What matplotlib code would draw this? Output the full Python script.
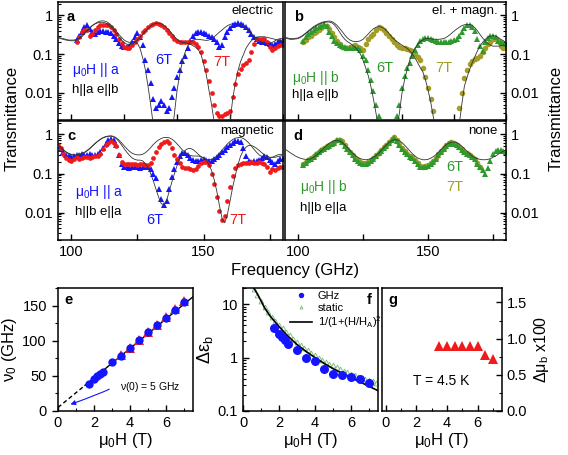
import numpy as np
import matplotlib
matplotlib.use("Agg")
import matplotlib.pyplot as plt
from matplotlib.ticker import LogLocator, NullFormatter, MultipleLocator, FixedLocator

plt.rcParams["font.family"] = ["Liberation Sans", "DejaVu Sans"]
plt.rcParams["mathtext.fontset"] = "custom"
plt.rcParams["mathtext.rm"] = "Liberation Sans"
plt.rcParams["mathtext.it"] = "Liberation Sans:italic"
plt.rcParams["mathtext.default"] = "regular"

nan = np.nan

# ---- spectra (transmittance vs frequency, GHz) ----
f_line = np.arange(95, 181)      # model curves
f_data = np.arange(102, 181)     # measured, panels a, b, d
f_data_c = np.arange(95, 181)    # measured, panel c

# panel a: electric, mu0H || a, h||a e||b
a_fit_6T = [0.26, 0.25, 0.24, 0.23, 0.225, 0.22, 0.22, 0.23, 0.25, 0.28,
            0.33, 0.39, 0.46, 0.54, 0.61, 0.67, 0.71, 0.72, 0.70, 0.64,
            0.56, 0.47, 0.39, 0.32, 0.27, 0.23, 0.21, 0.20, 0.21, 0.21,
            0.19, 0.14, 0.08, 0.04, 0.015, 0.005, 0.0015, 5e-4, 5e-4, 5e-4,
            5e-4, 5e-4, 5e-4, 8e-4, 0.003, 0.012, 0.03, 0.065, 0.11, 0.16,
            0.21, 0.23, 0.24, 0.24, 0.235, 0.23, 0.225, 0.23, 0.25, 0.28,
            0.32, 0.37, 0.42, 0.48, 0.54, 0.58, 0.61, 0.62, 0.61, 0.58,
            0.53, 0.47, 0.40, 0.34, 0.29, 0.25, 0.22, 0.20, 0.19, 0.185,
            0.19, 0.20, 0.22, 0.24, 0.25, 0.25]
a_fit_7T = [0.27, 0.26, 0.25, 0.24, 0.23, 0.23, 0.23, 0.24, 0.26, 0.30,
            0.35, 0.41, 0.48, 0.55, 0.60, 0.64, 0.66, 0.66, 0.63, 0.57,
            0.50, 0.42, 0.34, 0.28, 0.23, 0.20, 0.18, 0.17, 0.18, 0.20,
            0.23, 0.27, 0.32, 0.39, 0.46, 0.53, 0.59, 0.62, 0.63, 0.60,
            0.55, 0.48, 0.41, 0.34, 0.28, 0.24, 0.21, 0.20, 0.195, 0.19,
            0.18, 0.165, 0.15, 0.13, 0.10, 0.055, 0.03, 0.012, 0.005, 0.0018,
            6e-4, 5e-4, 5e-4, 5e-4, 6e-4, 0.0018, 0.007, 0.018, 0.038, 0.065,
            0.095, 0.14, 0.18, 0.22, 0.25, 0.27, 0.28, 0.28, 0.28, 0.27,
            0.26, 0.25, 0.24, 0.23, 0.22, 0.22]
a_6T = [0.23, 0.30, 0.38, 0.50, 0.55, 0.45, 0.36, 0.33, 0.38, 0.40,
        0.40, 0.38, 0.37, 0.35, 0.30, 0.24, 0.19, 0.16, 0.155, 0.15,
        0.16, 0.20, 0.28, 0.34, 0.28, 0.17, 0.07, 0.04, 0.018, 0.007,
        0.004, 0.005, 0.006, 0.005, 0.0035, 0.004, 0.008, 0.013, 0.025, 0.04,
        0.065, 0.09, 0.14, 0.22, 0.30, 0.35, 0.37, 0.37, 0.35, 0.33,
        0.30, 0.28, 0.25, 0.20, 0.15, 0.17, 0.28, 0.38, 0.48, 0.55,
        0.60, 0.62, 0.60, 0.57, 0.50, 0.42, 0.33, 0.27, 0.24, 0.22,
        0.21, 0.20, 0.19, 0.18, 0.17, 0.18, 0.20, 0.22, 0.23]
a_7T = [0.21, 0.28, 0.38, 0.43, 0.42, 0.30, 0.32, 0.42, 0.50, 0.55,
        0.56, 0.55, 0.55, 0.50, 0.42, 0.33, 0.25, 0.19, 0.15, 0.14,
        0.145, 0.17, 0.20, 0.24, 0.29, 0.36, 0.43, 0.50, 0.56, 0.60,
        0.62, 0.61, 0.57, 0.50, 0.42, 0.35, 0.29, 0.25, 0.22, 0.21,
        0.205, 0.20, 0.20, 0.205, 0.20, 0.18, 0.15, 0.11, 0.065, 0.04,
        0.02, 0.01, 0.005, 0.003, 0.0025, 0.0025, 0.0028, 0.003, 0.0035, 0.008,
        0.017, 0.03, 0.042, 0.052, 0.058, 0.07, 0.11, 0.18, 0.24, 0.25,
        0.25, 0.24, 0.20, 0.15, 0.13, 0.14, 0.16, 0.17, 0.17]

# panel b: el. + magn., mu0H || b, h||a e||b
b_fit_6T = [0.26, 0.25, 0.24, 0.24, 0.245, 0.25, 0.27, 0.30, 0.34, 0.38,
            0.43, 0.48, 0.53, 0.58, 0.62, 0.65, 0.67, 0.67, 0.64, 0.57,
            0.47, 0.37, 0.29, 0.24, 0.21, 0.19, 0.17, 0.15, 0.125, 0.10,
            0.07, 0.045, 0.028, 0.015, 0.007, 0.003, 0.0012, 5e-4, 5e-4, 5e-4,
            5e-4, 5e-4, 5e-4, 0.0012, 0.003, 0.01, 0.022, 0.04, 0.07, 0.105,
            0.14, 0.18, 0.21, 0.23, 0.25, 0.25, 0.25, 0.24, 0.24, 0.24,
            0.245, 0.25, 0.27, 0.30, 0.34, 0.39, 0.44, 0.49, 0.54, 0.57,
            0.58, 0.58, 0.55, 0.48, 0.40, 0.32, 0.26, 0.22, 0.19, 0.17,
            0.16, 0.16, 0.16, 0.165, 0.17, 0.17]
b_fit_7T = [0.27, 0.26, 0.25, 0.25, 0.255, 0.26, 0.28, 0.31, 0.35, 0.40,
            0.45, 0.51, 0.56, 0.61, 0.65, 0.68, 0.70, 0.71, 0.69, 0.63,
            0.55, 0.46, 0.38, 0.31, 0.26, 0.23, 0.215, 0.21, 0.21, 0.22,
            0.24, 0.28, 0.33, 0.39, 0.45, 0.49, 0.51, 0.50, 0.46, 0.40,
            0.34, 0.28, 0.24, 0.21, 0.19, 0.17, 0.155, 0.14, 0.12, 0.10,
            0.08, 0.06, 0.045, 0.035, 0.022, 0.012, 0.006, 0.0025, 0.001, 5e-4,
            5e-4, 5e-4, 5e-4, 5e-4, 5e-4, 5e-4, 8e-4, 0.0015, 0.005, 0.015,
            0.025, 0.04, 0.06, 0.085, 0.12, 0.16, 0.20, 0.24, 0.27, 0.29,
            0.30, 0.29, 0.27, 0.24, 0.22, 0.20]
b_6T = [0.22, 0.27, 0.33, 0.37, 0.42, 0.46, 0.50, 0.54, 0.58, 0.52,
        0.38, 0.29, 0.22, 0.19, 0.17, 0.16, 0.15, 0.145, 0.14, 0.14,
        0.14, 0.14, 0.13, 0.09, 0.07, 0.04, 0.022, 0.011, 0.005, 0.0025,
        nan, nan, nan, nan, nan, nan, 0.0025, 0.005, 0.013, 0.028,
        0.043, 0.06, 0.09, 0.13, 0.17, 0.22, 0.25, 0.26, 0.26, 0.25,
        0.23, 0.22, 0.21, 0.21, 0.20, 0.20, 0.21, 0.22, 0.23, 0.25,
        0.29, 0.38, 0.48, 0.56, 0.55, 0.50, 0.40, 0.25, 0.16, 0.12,
        0.20, 0.26, 0.30, 0.30, 0.27, 0.22, 0.20, 0.19, 0.18]
b_7T = [0.20, 0.23, 0.27, 0.30, 0.34, 0.38, 0.43, 0.48, 0.52, 0.54,
        0.44, 0.35, 0.28, 0.22, 0.18, 0.15, 0.14, 0.14, 0.15, 0.16,
        0.17, 0.155, 0.14, 0.13, 0.18, 0.24, 0.29, 0.33, 0.42, 0.49,
        0.46, 0.41, 0.34, 0.29, 0.24, 0.20, 0.17, 0.155, 0.145, 0.14,
        0.135, 0.13, 0.12, 0.10, 0.085, 0.07, 0.045, 0.025, 0.013, 0.007,
        0.0035, nan, nan, nan, nan, nan, nan, nan, nan, nan,
        0.004, 0.01, 0.024, 0.04, 0.055, 0.065, 0.073, 0.08, 0.09, 0.11,
        0.14, 0.18, 0.21, 0.24, 0.24, 0.22, 0.16, 0.14, 0.14]

# panel c: magnetic, mu0H || a, h||b e||a
c_fit_6T = [0.50, 0.45, 0.40, 0.35, 0.32, 0.30, 0.29, 0.29, 0.30, 0.32,
            0.34, 0.38, 0.43, 0.50, 0.58, 0.66, 0.74, 0.81, 0.86, 0.89,
            0.90, 0.86, 0.78, 0.66, 0.54, 0.43, 0.35, 0.29, 0.25, 0.23,
            0.22, 0.22, 0.21, 0.18, 0.14, 0.10, 0.065, 0.04, 0.025, 0.017,
            0.016, 0.02, 0.035, 0.06, 0.10, 0.16, 0.24, 0.32, 0.39, 0.43,
            0.44, 0.41, 0.36, 0.31, 0.27, 0.24, 0.23, 0.225, 0.23, 0.25,
            0.28, 0.33, 0.40, 0.48, 0.57, 0.66, 0.74, 0.80, 0.83, 0.83,
            0.79, 0.71, 0.61, 0.51, 0.42, 0.35, 0.30, 0.27, 0.25, 0.245,
            0.25, 0.26, 0.28, 0.30, 0.31, 0.31]
c_fit_7T = [0.52, 0.46, 0.41, 0.36, 0.33, 0.31, 0.30, 0.30, 0.31, 0.33,
            0.35, 0.39, 0.44, 0.51, 0.59, 0.67, 0.75, 0.83, 0.88, 0.91,
            0.92, 0.89, 0.82, 0.72, 0.61, 0.51, 0.43, 0.37, 0.33, 0.31,
            0.30, 0.30, 0.31, 0.34, 0.39, 0.46, 0.55, 0.64, 0.72, 0.79,
            0.83, 0.84, 0.82, 0.76, 0.67, 0.57, 0.48, 0.40, 0.35, 0.31,
            0.29, 0.28, 0.28, 0.28, 0.27, 0.25, 0.22, 0.17, 0.12, 0.07,
            0.035, 0.015, 0.007, 0.0055, 0.009, 0.02, 0.045, 0.09, 0.17, 0.28,
            0.39, 0.47, 0.52, 0.52, 0.49, 0.44, 0.39, 0.34, 0.30, 0.28,
            0.26, 0.26, 0.26, 0.27, 0.28, 0.29]
c_6T = [0.50, 0.42, 0.35, 0.30, 0.28, 0.27, 0.28, 0.30, 0.30, 0.31,
        0.30, 0.29, 0.31, 0.30, 0.30, 0.31, 0.36, 0.45, 0.58, 0.70,
        0.76, 0.72, 0.55, 0.30, 0.18, 0.15, 0.145, 0.14, 0.145, 0.15,
        0.145, 0.14, 0.145, 0.15, 0.145, 0.13, 0.10, 0.075, 0.04, 0.022,
        0.016, 0.02, 0.04, 0.08, 0.13, 0.20, 0.28, 0.33, 0.34, 0.30,
        0.25, 0.22, 0.21, 0.21, 0.22, 0.23, 0.22, 0.21, 0.21, 0.23,
        0.26, 0.30, 0.35, 0.41, 0.48, 0.55, 0.62, 0.67, 0.68, 0.65,
        0.45, 0.28, 0.21, 0.20, 0.21, 0.21, 0.22, 0.25, 0.28, 0.26,
        0.22, 0.20, 0.18, 0.21, 0.24, 0.23]
c_7T = [0.55, 0.45, 0.32, 0.25, 0.22, 0.21, 0.24, 0.26, 0.24, 0.25,
        0.27, 0.26, 0.25, 0.27, 0.28, 0.28, 0.32, 0.42, 0.55, 0.62,
        0.66, 0.62, 0.52, 0.30, 0.20, 0.18, 0.18, 0.175, 0.18, 0.18,
        0.17, 0.18, 0.18, 0.17, 0.17, 0.19, 0.25, 0.35, 0.48, 0.58,
        0.64, 0.66, 0.62, 0.45, 0.30, 0.24, 0.19, 0.15, 0.14, 0.135,
        0.13, 0.12, 0.13, 0.16, 0.19, 0.20, 0.20, 0.17, 0.10, 0.055,
        0.025, 0.011, 0.0065, 0.008, 0.02, 0.045, 0.085, 0.14, 0.17, 0.18,
        0.19, 0.19, 0.19, 0.20, 0.19, 0.19, 0.20, 0.19, 0.18, 0.15,
        0.11, 0.13, 0.12, 0.14, 0.15, 0.15]

# panel d: none, mu0H || b, h||b e||a
d_fit = [0.42, 0.38, 0.34, 0.31, 0.28, 0.26, 0.245, 0.235, 0.23, 0.23,
         0.24, 0.26, 0.29, 0.33, 0.38, 0.45, 0.52, 0.59, 0.65, 0.69,
         0.70, 0.68, 0.62, 0.54, 0.46, 0.39, 0.33, 0.29, 0.26, 0.24,
         0.23, 0.225, 0.23, 0.24, 0.26, 0.29, 0.33, 0.39, 0.46, 0.54,
         0.62, 0.69, 0.73, 0.73, 0.69, 0.62, 0.53, 0.45, 0.38, 0.32,
         0.28, 0.25, 0.235, 0.225, 0.225, 0.23, 0.245, 0.27, 0.30, 0.35,
         0.41, 0.48, 0.55, 0.60, 0.63, 0.64, 0.62, 0.57, 0.50, 0.43,
         0.37, 0.32, 0.28, 0.255, 0.24, 0.23, 0.225, 0.225, 0.23, 0.24,
         0.26, 0.28, 0.31, 0.34, 0.37, 0.40]
d_6T = [0.17, 0.19, 0.22, 0.24, 0.27, 0.31, 0.35, 0.39, 0.43, 0.48,
        0.52, 0.56, 0.62, 0.70, 0.72, 0.64, 0.52, 0.42, 0.35, 0.29,
        0.24, 0.21, 0.19, 0.18, 0.18, 0.19, 0.21, 0.24, 0.28, 0.33,
        0.38, 0.44, 0.52, 0.60, 0.70, 0.80, 0.68, 0.54, 0.43, 0.35,
        0.31, 0.27, 0.25, 0.21, 0.18, 0.15, 0.145, 0.15, 0.16, 0.18,
        0.20, 0.24, 0.29, 0.35, 0.42, 0.50, 0.56, 0.60, 0.58, 0.53,
        0.47, 0.40, 0.35, 0.32, 0.29, 0.26, 0.23, 0.18, 0.145, 0.12,
        0.10, 0.14, 0.21, 0.32, 0.37, 0.40, 0.39, 0.37, 0.36]
d_7T = [0.18, 0.20, 0.22, 0.25, 0.28, 0.32, 0.36, 0.40, 0.45, 0.50,
        0.54, 0.58, 0.65, 0.73, 0.74, 0.66, 0.54, 0.43, 0.36, 0.30,
        0.25, 0.22, 0.20, 0.19, 0.19, 0.20, 0.22, 0.25, 0.29, 0.34,
        0.40, 0.47, 0.55, 0.64, 0.75, 0.86, 0.72, 0.56, 0.45, 0.37,
        0.32, 0.28, 0.26, 0.22, 0.19, 0.16, 0.15, 0.155, 0.17, 0.19,
        0.21, 0.25, 0.31, 0.38, 0.45, 0.53, 0.60, 0.64, 0.61, 0.55,
        0.49, 0.42, 0.36, 0.33, 0.30, 0.27, 0.24, 0.19, 0.15, nan,
        nan, nan, nan, nan, nan, nan, nan, nan, nan]

# ---- field dependences ----
H_ghz = [1.7, 2.0, 2.15, 2.35, 2.5, 3.0, 3.5, 4.0, 4.5, 5.0, 5.5, 6.0, 6.5, 7.0]
nu0_ghz = [39, 45, 50, 53, 55, 70, 78, 89, 101, 112, 122, 133, 143, 155]
H_tri = [3.5, 4.0, 4.5, 5.0, 5.5, 6.0, 6.5, 7.0]
nu0_tri = [80, 90, 101, 112, 123, 134, 145, 156]
fit_H_dash = [0.0, 1.5]
fit_nu_dash = [5.0, 36.5]
fit_H_solid = [1.5, 7.5]
fit_nu_solid = [36.5, 162.5]

deps_ghz = [3.6, 2.7, 2.4, 2.1, 1.8, 1.4, 1.0, 0.88, 0.6, 0.5, 0.48, 0.44, 0.39, 0.34]
H_static = [0.6, 0.8, 1.0, 1.2, 1.4, 1.6, 1.8, 2.0, 2.2, 2.4, 2.6, 2.8, 3.0,
            3.2, 3.4, 3.6, 3.8, 4.0, 4.2, 4.4, 4.6, 4.8, 5.0, 5.2, 5.4, 5.6,
            5.8, 6.0, 6.2, 6.4, 6.6, 6.8, 7.0, 7.2, 7.4]
deps_static = [19, 15, 11.5, 8.8, 7.0, 5.7, 4.8, 4.1, 3.5, 3.0, 2.6, 2.25, 1.95,
               1.72, 1.52, 1.36, 1.22, 1.10, 1.0, 0.91, 0.84, 0.77, 0.71, 0.66,
               0.61, 0.57, 0.53, 0.50, 0.47, 0.44, 0.42, 0.40, 0.38, 0.36, 0.34]
H_model = [0.6, 0.8, 1.0, 1.2, 1.5, 2.0, 2.5, 3.0, 3.5, 4.0, 4.5, 5.0, 5.5,
           6.0, 6.5, 7.0, 7.5]
deps_model = [20, 15.5, 11.5, 8.5, 6.0, 3.8, 2.5, 1.75, 1.3, 1.0, 0.78, 0.62,
              0.51, 0.42, 0.35, 0.29, 0.24]

dmu = [0.9, 0.9, 0.9, 0.9, 0.9, 0.9, 0.78, 0.72]

BLUE = "#1414ff"
RED = "#f01a1a"
GREEN = "#2e9a2e"
OLIVE = "#a39c26"

W, Hh = 568, 455
fig = plt.figure(figsize=(W / 100, Hh / 100), dpi=100)


def rect(x0, y0, x1, y1):
    return [x0 / W, 1 - y1 / Hh, (x1 - x0) / W, (y1 - y0) / Hh]


ax_a = fig.add_axes(rect(58, 2, 283, 120))
ax_c = fig.add_axes(rect(58, 121, 283, 240))
ax_b = fig.add_axes(rect(285, 2, 506, 120))
ax_d = fig.add_axes(rect(285, 121, 506, 240))


def style_spec(ax, right, bottom):
    ax.set_yscale("log")
    ax.set_xlim(95, 180)
    ax.set_ylim(0.002, 2.2)
    ax.yaxis.set_major_locator(FixedLocator([0.01, 0.1, 1]))
    ax.yaxis.set_minor_locator(LogLocator(subs=np.arange(2, 10)))
    ax.yaxis.set_minor_formatter(NullFormatter())
    ax.set_yticklabels(["0.01", "0.1", "1"])
    if right:
        ax.yaxis.tick_right()
    if bottom:
        ax.set_xticks([100, 125, 150, 175])
        ax.set_xticklabels(["100", "", "150", ""])
    else:
        ax.xaxis.set_major_locator(MultipleLocator(20))
        ax.set_xticklabels([])
    ax.tick_params(which="major", direction="in", length=4.5, width=1, labelsize=10.5)
    ax.tick_params(which="minor", direction="in", length=2.5, width=0.8)
    for s in ax.spines.values():
        s.set_linewidth(1.1)


def spec(ax, f, y, color, marker, ms):
    ax.plot(f, y, linestyle="none", marker=marker, ms=ms, color=color,
            markeredgewidth=0)


# panel a
for fit in (a_fit_6T, a_fit_7T):
    ax_a.plot(f_line, fit, color="0.2", lw=0.6, zorder=3)
spec(ax_a, f_data, a_6T, BLUE, "^", 3.8)
spec(ax_a, f_data, a_7T, RED, "o", 3.4)
style_spec(ax_a, False, False)

# panel c
for fit in (c_fit_6T, c_fit_7T):
    ax_c.plot(f_line, fit, color="0.2", lw=0.6, zorder=3)
spec(ax_c, f_data_c, c_6T, BLUE, "^", 3.8)
spec(ax_c, f_data_c, c_7T, RED, "o", 3.4)
style_spec(ax_c, False, True)

# panel b
for fit in (b_fit_6T, b_fit_7T):
    ax_b.plot(f_line, fit, color="0.2", lw=0.6, zorder=3)
spec(ax_b, f_data, b_7T, OLIVE, "o", 4.0)
spec(ax_b, f_data, b_6T, GREEN, "^", 3.8)
style_spec(ax_b, True, False)

# panel d
ax_d.plot(f_line, d_fit, color="0.2", lw=0.6, zorder=3)
spec(ax_d, f_data, d_7T, OLIVE, "o", 4.0)
spec(ax_d, f_data, d_6T, GREEN, "^", 3.8)
style_spec(ax_d, True, True)

for ax, letter, mode, fld, fcol, geom, pos in [
    (ax_a, "a", "electric", "$\\mu_0$H || a", BLUE, "h||a e||b", (0.064, 0.42, 0.25)),
    (ax_c, "c", "magnetic", "$\\mu_0$H || a", BLUE, "h||b e||a", (0.075, 0.40, 0.235)),
    (ax_b, "b", "el. + magn.", "$\\mu_0$H || b", GREEN, "h||a e||b", (0.03, 0.36, 0.21)),
    (ax_d, "d", "none", "$\\mu_0$H || b", GREEN, "h||b e||a", (0.07, 0.445, 0.27)),
]:
    ax.text(0.04, 0.87, letter, transform=ax.transAxes, fontsize=10.5,
            fontweight="bold", va="center", ha="left")
    ax.text(0.96, 0.92, mode, transform=ax.transAxes, fontsize=9.5,
            va="center", ha="right")
    ax.text(pos[0], pos[1], fld, transform=ax.transAxes, fontsize=10,
            color=fcol, va="center", ha="left")
    ax.text(pos[0], pos[2], geom, transform=ax.transAxes, fontsize=9.5,
            va="center", ha="left")

for ax, items in [
    (ax_a, [(0.47, 0.51, "6T", BLUE), (0.73, 0.49, "7T", RED)]),
    (ax_c, [(0.43, 0.17, "6T", BLUE), (0.80, 0.17, "7T", RED)]),
    (ax_b, [(0.45, 0.44, "6T", GREEN), (0.72, 0.44, "7T", OLIVE)]),
    (ax_d, [(0.77, 0.61, "6T", GREEN), (0.77, 0.445, "7T", OLIVE)]),
]:
    for x, y, s, col in items:
        ax.text(x, y, s, transform=ax.transAxes, fontsize=10.5, color=col,
                ha="center", va="center")

fig.text(12 / W, 1 - 118 / Hh, "Transmittance", rotation=90, fontsize=12,
         ha="center", va="center")
fig.text(556 / W, 1 - 118 / Hh, "Transmittance", rotation=90, fontsize=12,
         ha="center", va="center")
fig.text(295 / W, 1 - 270 / Hh, "Frequency (GHz)", fontsize=12,
         ha="center", va="center")

# ---- bottom row ----
ax_e = fig.add_axes(rect(58, 288, 193, 411))
ax_f = fig.add_axes(rect(243, 288, 378, 411))
ax_g = fig.add_axes(rect(382, 288, 502, 411))

# e
ax_e.plot(fit_H_dash, fit_nu_dash, color="black", lw=1.0, ls=(0, (3, 2)))
ax_e.plot(fit_H_solid, fit_nu_solid, color="black", lw=1.0)
ax_e.plot(H_tri, nu0_tri, linestyle="none", marker="^", ms=6.5, color=RED,
          markeredgewidth=0, zorder=3)
ax_e.plot(H_ghz, nu0_ghz, linestyle="none", marker="o", ms=6, color=BLUE,
          markeredgewidth=0, zorder=4)
ax_e.set_xlim(0, 7.5)
ax_e.set_ylim(0, 175)
ax_e.set_xticks([0, 2, 4, 6])
ax_e.xaxis.set_minor_locator(MultipleLocator(1))
ax_e.set_yticks([0, 50, 100, 150])
ax_e.yaxis.set_minor_locator(MultipleLocator(25))
ax_e.tick_params(axis="y", which="both", direction="out")
ax_e.tick_params(axis="x", which="both", direction="in")
ax_e.set_ylabel("$\\nu_0$ (GHz)", fontsize=12, labelpad=2)
ax_e.text(0.05, 0.9, "e", transform=ax_e.transAxes, fontsize=10.5,
          fontweight="bold", va="center")
ax_e.text(0.46, 0.195, "$\\nu$(0) = 5 GHz", transform=ax_e.transAxes,
          fontsize=7.5, va="center")
ax_e.annotate("", xy=(0.55, 8), xytext=(2.95, 34),
              arrowprops=dict(arrowstyle="-|>", color=BLUE, lw=0.8,
                              mutation_scale=7,
                              connectionstyle="angle3,angleA=0,angleB=20"))

# f
ax_f.plot(H_static, deps_static, linestyle="none", marker="^", ms=3.5,
          markerfacecolor="none", markeredgecolor="#7ab87a", markeredgewidth=0.6,
          label="static", zorder=2)
ax_f.plot(H_model, deps_model, color="black", lw=1.2,
          label="1/(1+(H/H$_A$)$^2$)", zorder=3)
ax_f.plot(H_ghz, deps_ghz, linestyle="none", marker="o", ms=6.5, color=BLUE,
          markeredgewidth=0, label="GHz", zorder=4)
ax_f.set_yscale("log")
ax_f.set_xlim(0, 7.5)
ax_f.set_ylim(0.1, 20)
ax_f.set_xticks([0, 2, 4, 6])
ax_f.xaxis.set_minor_locator(MultipleLocator(1))
ax_f.yaxis.set_major_locator(FixedLocator([0.1, 1, 10]))
ax_f.yaxis.set_minor_locator(LogLocator(subs=np.arange(2, 10)))
ax_f.yaxis.set_minor_formatter(NullFormatter())
ax_f.set_yticklabels(["0.1", "1", "10"])
ax_f.tick_params(which="both", direction="in")
ax_f.set_ylabel("$\\Delta\\varepsilon_b$", fontsize=13, labelpad=2)
h, l = ax_f.get_legend_handles_labels()
order = [2, 0, 1]
leg = ax_f.legend([h[i] for i in order], [l[i] for i in order],
                  loc="upper left", bbox_to_anchor=(0.3, 1.03), frameon=False,
                  fontsize=8, handlelength=2.0, handletextpad=0.5,
                  labelspacing=0.15, borderaxespad=0.2, markerscale=0.6)
ax_f.text(0.95, 0.9, "f", transform=ax_f.transAxes, fontsize=10.5,
          fontweight="bold", va="center", ha="right")

# g
ax_g.plot(H_tri, dmu, linestyle="none", marker="^", ms=7, color=RED,
          markeredgewidth=0)
ax_g.set_xlim(-0.25, 7.6)
ax_g.set_ylim(0, 1.7)
ax_g.set_xticks([0, 2, 4, 6])
ax_g.xaxis.set_minor_locator(MultipleLocator(1))
ax_g.set_yticks([0.0, 0.5, 1.0, 1.5])
ax_g.set_yticklabels(["0.0", "0.5", "1.0", "1.5"])
ax_g.yaxis.set_minor_locator(MultipleLocator(0.25))
ax_g.yaxis.tick_right()
ax_g.yaxis.set_label_position("right")
ax_g.tick_params(which="both", direction="in")
ax_g.set_ylabel("$\\Delta\\mu_b$ x100", fontsize=11.5, labelpad=3)
ax_g.text(0.05, 0.9, "g", transform=ax_g.transAxes, fontsize=10.5,
          fontweight="bold", va="center")
ax_g.text(0.49, 0.24, "T = 4.5 K", transform=ax_g.transAxes, fontsize=10,
          ha="center", va="center")

for ax in (ax_e, ax_f, ax_g):
    ax.set_xlabel("$\\mu_0$H (T)", fontsize=12, labelpad=1)
    ax.tick_params(which="major", length=4.5, width=1, labelsize=10.5)
    ax.tick_params(which="minor", length=2.5, width=0.8)
    for s in ax.spines.values():
        s.set_linewidth(1.1)

fig.savefig("out.png", dpi=100)
